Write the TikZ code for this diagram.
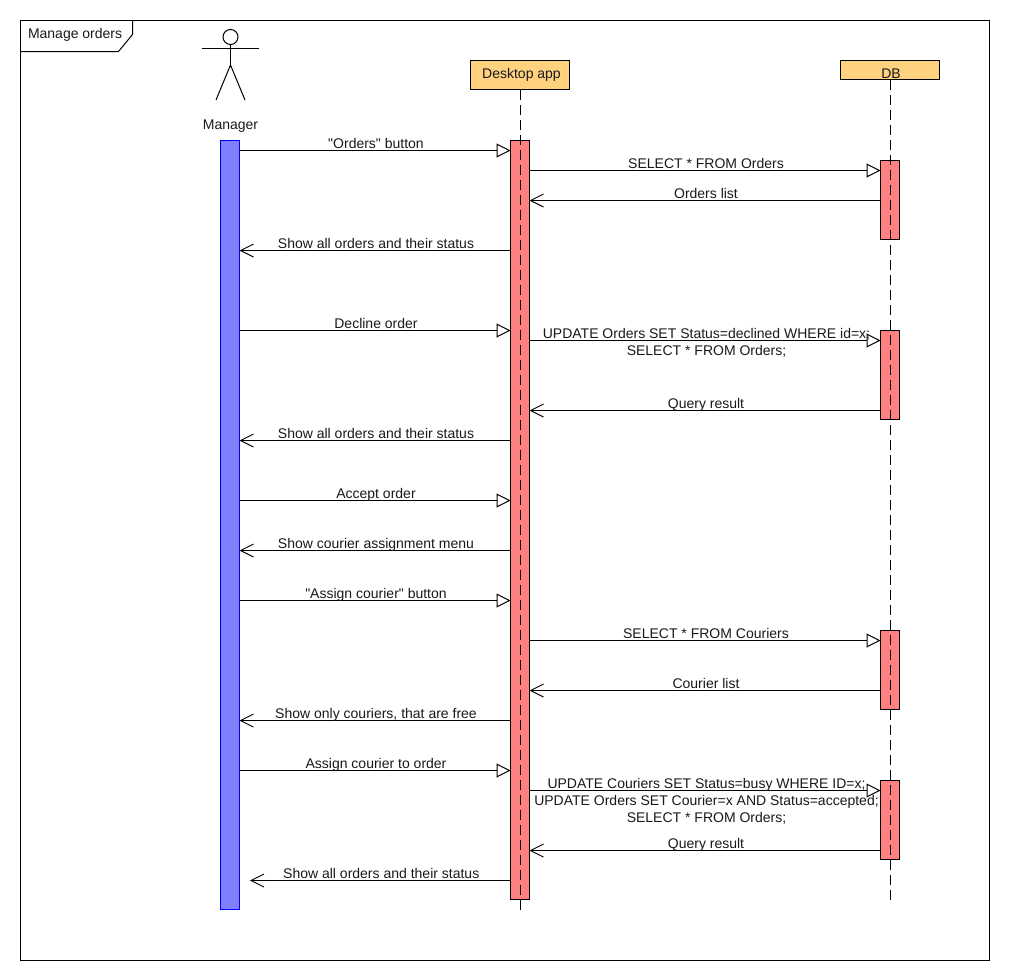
\documentclass[tikz,border=0pt]{standalone}
\usepackage{fontspec}
\newfontfamily\diagfont{Liberation Sans}
\usetikzlibrary{arrows.meta}
\definecolor{barred}{HTML}{FF8080}
\definecolor{barblue}{HTML}{8080FF}
\definecolor{headfill}{HTML}{FFD280}
\tikzset{
  base/.style={line width=1pt,draw=black,rectangle,inner sep=0pt,outer sep=0pt},
  headbox/.style={base,fill=headfill,minimum width=99pt},
  redbar/.style={base,fill=barred,minimum width=19pt},
  bluebar/.style={base,fill=barblue,draw=blue,minimum width=19pt},
  lifeline/.style={line width=1pt,dash pattern=on 10pt off 5pt},
  callmsg/.style={line width=1pt,-{Triangle[open,fill=white,length=14pt,width=14pt,line width=1pt]}},
  replymsg/.style={line width=1pt,-{Straight Barb[length=13pt,width=13pt,line width=0.9pt]}},
  lbl/.style={inner sep=0pt,outer sep=0pt,anchor=base,font=\diagfont\fontsize{14}{17}\selectfont,align=center,text=black!90},
  plain/.style={inner sep=0pt,outer sep=0pt,font=\diagfont\fontsize{14}{17}\selectfont,text=black!90}
}
\begin{document}
\begin{tikzpicture}[x=1pt,y=-1pt]
\useasboundingbox (0,0) rectangle (1010,980);
\fill[white] (0,0) rectangle (1010,980);
% frame
\node[base,fill=none,minimum width=969pt,minimum height=940pt] (frame) at (505,490.5) {};
\coordinate (tagA) at (132.5,20.5);
\coordinate (tagB) at (132.5,34.5);
\coordinate (tagC) at (118.5,51.5);
\coordinate (tagD) at (20.5,51.5);
\draw[line width=1pt] (tagA) -- (tagB) -- (tagC) -- (tagD);
\node[plain,anchor=base west] (title) at (28,38) {Manage orders};
% actor
\node[draw,line width=1pt,circle,minimum size=15pt,inner sep=0pt,outer sep=0pt] (acthead) at (230.5,37) {};
\coordinate (armL) at (202,48.5);
\coordinate (armR) at (259,48.5);
\coordinate (hip) at (230.5,65);
\coordinate (legL) at (216,100);
\coordinate (legR) at (245,100);
\draw[line width=1pt] (acthead.south) -- (hip);
\draw[line width=1pt] (armL) -- (armR);
\draw[line width=1pt] (legL) -- (hip) -- (legR);
\node[plain,anchor=base] (mgr) at (230.5,129) {Manager};
% heads
\node[headbox,minimum height=29pt] (app) at (520,75) {};
\node[plain,anchor=base] (applbl) at (521.5,78) {Desktop app};
\node[headbox,minimum height=19pt] (db) at (890,70) {};
\node[plain,anchor=base] (dblbl) at (891,78) {DB};
% activation bars
\node[bluebar,minimum height=769pt] (mbar) at (230,525) {};
\node[redbar,minimum height=759pt] (abar) at (520,520) {};
\node[redbar,minimum height=79pt] (db1) at (890,200) {};
\node[redbar,minimum height=89pt] (db2) at (890,375) {};
\node[redbar,minimum height=79pt] (db3) at (890,670) {};
\node[redbar,minimum height=79pt] (db4) at (890,820) {};
% lifelines
\coordinate (append) at (520.5,910);
\coordinate (dbend) at (890.5,900);
\draw[lifeline] (app.south -| append) -- (append);
\draw[lifeline] (db.south -| dbend) -- (dbend);
% messages
\draw[callmsg] (mbar.east |- 0,150.5) -- (abar.west |- 0,150.5) node[lbl,pos=0.5,yshift=2pt,xshift=1pt] (m1) {"Orders" button};
\draw[callmsg] (abar.east |- 0,170.5) -- (db1.west |- 0,170.5) node[lbl,pos=0.5,yshift=2pt,xshift=1pt] (m2) {SELECT * FROM Orders};
\draw[replymsg] (db1.west |- 0,200.5) -- (abar.east |- 0,200.5) node[lbl,pos=0.5,yshift=2pt,xshift=1pt] (m3) {Orders list};
\draw[replymsg] (abar.west |- 0,250.5) -- (mbar.east |- 0,250.5) node[lbl,pos=0.5,yshift=2pt,xshift=1pt] (m4) {Show all orders and their status};
\draw[callmsg] (mbar.east |- 0,330.5) -- (abar.west |- 0,330.5) node[lbl,pos=0.5,yshift=2pt,xshift=1pt] (m5) {Decline order};
\draw[callmsg] (abar.east |- 0,340.5) -- (db2.west |- 0,340.5);
\node[lbl,anchor=base] (m6) at (706.5,355.5) {UPDATE Orders SET Status=declined WHERE id=x;\\SELECT * FROM Orders;};
\draw[replymsg] (db2.west |- 0,410.5) -- (abar.east |- 0,410.5) node[lbl,pos=0.5,yshift=2pt,xshift=1pt] (m7) {Query result};
\draw[replymsg] (abar.west |- 0,440.5) -- (mbar.east |- 0,440.5) node[lbl,pos=0.5,yshift=2pt,xshift=1pt] (m8) {Show all orders and their status};
\draw[callmsg] (mbar.east |- 0,500.5) -- (abar.west |- 0,500.5) node[lbl,pos=0.5,yshift=2pt,xshift=1pt] (m9) {Accept order};
\draw[replymsg] (abar.west |- 0,550.5) -- (mbar.east |- 0,550.5) node[lbl,pos=0.5,yshift=2pt,xshift=1pt] (m10) {Show courier assignment menu};
\draw[callmsg] (mbar.east |- 0,600.5) -- (abar.west |- 0,600.5) node[lbl,pos=0.5,yshift=2pt,xshift=1pt] (m11) {"Assign courier" button};
\draw[callmsg] (abar.east |- 0,640.5) -- (db3.west |- 0,640.5) node[lbl,pos=0.5,yshift=2pt,xshift=1pt] (m12) {SELECT * FROM Couriers};
\draw[replymsg] (db3.west |- 0,690.5) -- (abar.east |- 0,690.5) node[lbl,pos=0.5,yshift=2pt,xshift=1pt] (m13) {Courier list};
\draw[replymsg] (abar.west |- 0,720.5) -- (mbar.east |- 0,720.5) node[lbl,pos=0.5,yshift=2pt,xshift=1pt] (m14) {Show only couriers, that are free};
\draw[callmsg] (mbar.east |- 0,770.5) -- (abar.west |- 0,770.5) node[lbl,pos=0.5,yshift=2pt,xshift=1pt] (m15) {Assign courier to order};
\draw[callmsg] (abar.east |- 0,790.5) -- (db4.west |- 0,790.5);
\node[lbl,anchor=base] (m16) at (706.5,822.5) {UPDATE Couriers SET Status=busy WHERE ID=x;\\UPDATE Orders SET Courier=x AND Status=accepted;\\SELECT * FROM Orders;};
\draw[replymsg] (db4.west |- 0,850.5) -- (abar.east |- 0,850.5) node[lbl,pos=0.5,yshift=2pt,xshift=1pt] (m17) {Query result};
\coordinate (lastend) at (250,880.5);
\draw[replymsg] (abar.west |- lastend) -- (lastend) node[lbl,pos=0.5,yshift=2pt,xshift=1pt] (m18) {Show all orders and their status};
\end{tikzpicture}
\end{document}
